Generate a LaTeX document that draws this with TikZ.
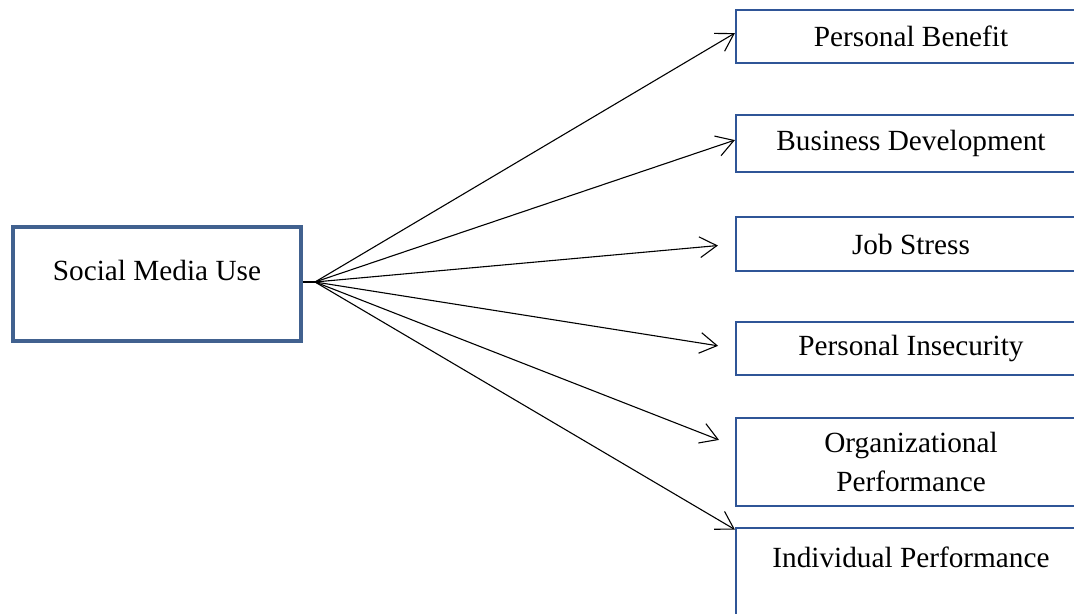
\documentclass[tikz,border=0pt]{standalone}
\usepackage{fontspec}
\setmainfont{Liberation Serif}
\usetikzlibrary{arrows.meta}
\definecolor{outline}{HTML}{2F5597}
\definecolor{mainline}{HTML}{41618F}
\tikzset{
  mainbox/.style={
    rectangle,
    draw=mainline,
    line width=1.7pt,
    align=center,
    minimum width=118pt,
    minimum height=46.7pt,
    font=\fontsize{12}{16}\selectfont
  },
  outcome/.style={
    rectangle,
    draw=outline,
    line width=0.9pt,
    align=center,
    minimum width=143.5pt,
    minimum height=22pt,
    font=\fontsize{12}{16}\selectfont
  },
  arrow/.style={-{Straight Barb[length=7pt, width=8.5pt]}, line width=0.45pt}
}

\begin{document}
\begin{tikzpicture}[x=0.41pt, y=-0.41pt]
\useasboundingbox (0,0) rectangle (1074,614);
\node[mainbox] (social) at (157,284) {Social Media Use\\[-5pt]\mbox{}};
\coordinate (hub) at (315,282);
\node[outcome] (benefit) at (911,36.5) {Personal Benefit};
\node[outcome, minimum height=23.4pt] (business) at (911,143.5) {Business Development};
\node[outcome] (stress) at (911,244) {Job Stress};
\node[outcome] (insecurity) at (911,348.5) {Personal Insecurity};
\node[outcome, minimum height=36.1pt] (orgperf) at (911,462) {Organizational\\Performance};
\node[outcome, minimum height=40pt] (indperf) at (911,577) {Individual Performance\\\mbox{}};

\draw[line width=0.45pt] (social.east |- hub) -- (hub);
\draw[arrow] (hub) -- ([yshift=1.4pt]benefit.west);
\draw[arrow] (hub) -- ([yshift=1.4pt]business.west);
\draw[arrow, shorten >=7pt] (hub) -- (stress.west);
\draw[arrow, shorten >=7pt] (hub) -- (insecurity.west);
\draw[arrow, shorten >=7pt] (hub) -- ([yshift=6.5pt]orgperf.west);
\draw[arrow] (hub) -- ([yshift=-1pt]indperf.north west);
\end{tikzpicture}
\end{document}
